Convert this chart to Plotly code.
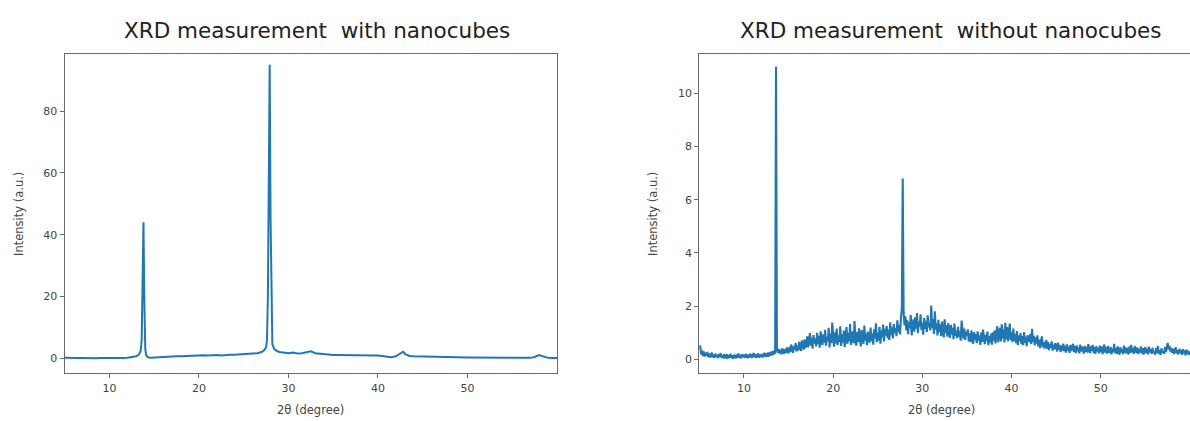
import numpy as np
import plotly.graph_objects as go

# ---------------- data ----------------
# Left panel: XRD with nanocubes (2theta in degree, intensity in a.u.)
x_with = [5.0, 5.5, 6.0, 6.5, 7.0, 7.5, 8.0, 8.5, 9.0, 9.5, 10.0, 10.5, 11.0, 11.5, 12.0,
          12.5, 13.0, 13.3, 13.5, 13.6, 13.7, 13.8, 13.9, 14.0, 14.1, 14.3, 14.6, 15.0,
          15.5, 16.0, 16.5, 17.0, 17.5, 18.0, 18.5, 19.0, 19.5, 20.0, 20.5, 21.0, 21.5,
          22.0, 22.5, 23.0, 23.5, 24.0, 24.5, 25.0, 25.5, 26.0, 26.5, 27.0, 27.3, 27.5,
          27.6, 27.7, 27.8, 27.9, 28.0, 28.1, 28.2, 28.4, 28.7, 29.0, 29.5, 30.0, 30.5,
          31.0, 31.5, 32.0, 32.5, 33.0, 33.5, 34.0, 34.5, 35.0, 35.5, 36.0, 36.5, 37.0,
          37.5, 38.0, 38.5, 39.0, 39.5, 40.0, 40.5, 41.0, 41.5, 42.0, 42.5, 42.8, 43.1,
          43.5, 44.0, 44.5, 45.0, 45.5, 46.0, 46.5, 47.0, 47.5, 48.0, 48.5, 49.0, 49.5,
          50.0, 50.5, 51.0, 51.5, 52.0, 52.5, 53.0, 53.5, 54.0, 54.5, 55.0, 55.5, 56.0,
          56.5, 57.0, 57.5, 58.0, 58.3, 58.7, 59.0, 59.5, 60.0]
y_with = [0.15, 0.05, 0.10, 0.02, 0.08, 0.00, 0.05, -0.02, 0.06, 0.01, 0.04, -0.01, 0.06, 0.03, 0.12,
          0.25, 0.60, 1.20, 2.50, 6.0, 25.0, 44.0, 18.0, 3.0, 1.0, 0.3, 0.1, 0.2,
          0.3, 0.4, 0.45, 0.5, 0.6, 0.6, 0.7, 0.8, 0.75, 0.9, 0.95, 0.85, 1.0,
          1.0, 0.9, 1.05, 1.1, 1.1, 1.2, 1.2, 1.3, 1.4, 1.6, 2.0, 2.6, 3.5,
          6.0, 20.0, 70.0, 95.0, 45.0, 10.0, 4.5, 3.0, 2.3, 2.0, 1.7, 1.6, 1.8,
          1.5, 1.6, 1.9, 2.2, 1.6, 1.4, 1.2, 1.1, 1.0, 1.05, 1.0, 0.95, 0.9,
          0.95, 0.85, 0.9, 0.8, 0.85, 0.9, 0.7, 0.5, 0.3, 0.6, 1.5, 2.1, 1.2,
          0.7, 0.6, 0.55, 0.5, 0.5, 0.45, 0.42, 0.4, 0.38, 0.35, 0.3, 0.3, 0.28,
          0.25, 0.22, 0.2, 0.18, 0.15, 0.16, 0.15, 0.12, 0.1, 0.08, 0.05, 0.04, 0.0,
          0.05, 0.1, 0.4, 1.0, 0.7, 0.3, 0.1, 0.08, 0.05]

# Right panel: XRD without nanocubes, scanned from 5 to 60 degree in 0.1 degree steps
scan_start, scan_end, scan_points = 5.0, 60.0, 551
y_without = [
    0.36, 0.52, 0.18, 0.33, 0.12, 0.29, 0.10, 0.24, 0.13, 0.27,
    0.08, 0.22, 0.06, 0.19, 0.25, 0.07, 0.18, 0.05, 0.21, 0.09,
    0.17, 0.04, 0.20, 0.08, 0.23, 0.06, 0.16, 0.03, 0.19, 0.07,
    0.05, 0.19, 0.03, 0.16, 0.06, 0.21, 0.04, 0.15, 0.02, 0.17,
    0.07, 0.04, 0.18, 0.05, 0.22, 0.06, 0.16, 0.04, 0.19, 0.08,
    0.17, 0.05, 0.20, 0.07, 0.04, 0.18, 0.06, 0.21, 0.08, 0.05,
    0.16, 0.23, 0.07, 0.19, 0.05, 0.17, 0.22, 0.06, 0.18, 0.08,
    0.20, 0.07, 0.17, 0.24, 0.08, 0.21, 0.09, 0.25, 0.11, 0.22,
    0.27, 0.14, 0.30, 0.17, 0.33, 0.21, 11.0, 0.37, 0.24, 0.39,
    0.21, 0.36, 0.18, 0.41, 0.25, 0.20, 0.38, 0.23, 0.44, 0.26,
    0.22, 0.46, 0.27, 0.55, 0.32, 0.24, 0.50, 0.35, 0.61, 0.29,
    0.52, 0.33, 0.65, 0.40, 0.31, 0.71, 0.47, 0.36, 0.75, 0.42,
    0.54, 0.86, 0.45, 0.74, 0.98, 0.51, 0.81, 0.40, 0.91, 0.58,
    0.77, 0.48, 0.99, 0.57, 0.88, 0.43, 1.05, 0.65, 0.54, 0.94,
    0.62, 1.11, 0.51, 0.85, 0.67, 1.18, 0.44, 0.96, 0.60, 1.38,
    0.68, 0.47, 1.01, 0.59, 1.15, 0.53, 0.89, 0.65, 1.24, 0.50,
    0.94, 0.62, 1.08, 0.45, 0.86, 1.21, 0.58, 0.98, 0.67, 1.32,
    0.54, 0.90, 1.05, 0.60, 1.44, 0.69, 0.51, 1.02, 0.64, 1.16,
    0.75, 0.48, 1.10, 0.88, 0.57, 1.27, 0.70, 0.96, 0.53, 1.04,
    0.86, 0.62, 1.19, 0.68, 0.97, 0.55, 1.12, 0.77, 1.35, 0.64,
    1.00, 0.70, 1.22, 0.58, 1.08, 0.82, 1.30, 0.67, 1.14, 0.89,
    1.25, 0.80, 1.11, 0.72, 1.39, 0.91, 1.20, 0.78, 1.32, 0.98,
    1.17, 0.87, 1.46, 1.02, 1.28, 0.93, 1.55, 1.88, 6.80, 1.76,
    1.27, 1.61, 1.08, 1.47, 0.94, 1.39, 1.17, 1.66, 0.90, 1.32,
    1.50, 1.04, 1.58, 1.15, 1.74, 0.98, 1.41, 1.22, 1.69, 1.09,
    1.37, 0.92, 1.55, 1.14, 1.44, 1.03, 1.65, 1.20, 1.38, 1.08,
    2.02, 1.17, 1.51, 0.95, 1.80, 1.11, 1.35, 0.89, 1.48, 1.02,
    1.31, 0.87, 1.42, 1.07, 0.82, 1.50, 0.98, 1.27, 0.85, 1.36,
    1.11, 0.80, 1.29, 0.93, 1.18, 0.75, 1.34, 0.88, 1.08, 0.79,
    1.22, 0.84, 1.06, 0.70, 1.45, 0.91, 0.77, 1.15, 0.73, 1.04,
    0.89, 1.12, 0.67, 0.97, 0.64, 1.08, 0.79, 0.58, 1.02, 0.72,
    0.94, 0.60, 1.05, 0.69, 0.90, 0.54, 1.00, 0.65, 1.11, 0.71,
    0.57, 0.92, 0.68, 1.04, 0.53, 0.87, 0.62, 0.96, 0.55, 1.01,
    0.70, 1.09, 0.59, 0.95, 1.24, 0.64, 0.90, 1.18, 0.67, 1.31,
    0.78, 1.12, 0.63, 1.37, 0.75, 1.21, 0.68, 0.98, 1.34, 0.72,
    1.01, 0.65, 1.15, 0.69, 0.94, 0.60, 1.06, 0.54, 0.89, 0.67,
    0.98, 0.58, 0.87, 0.53, 1.02, 0.62, 0.84, 0.49, 0.91, 0.65,
    0.70, 0.95, 0.57, 1.14, 0.64, 0.88, 0.52, 0.82, 0.59, 0.90,
    0.48, 0.74, 0.42, 0.69, 0.86, 0.45, 0.65, 0.40, 0.61, 0.72,
    0.39, 0.64, 0.34, 0.58, 0.43, 0.67, 0.32, 0.55, 0.37, 0.60,
    0.48, 0.29, 0.62, 0.35, 0.54, 0.27, 0.51, 0.33, 0.59, 0.30,
    0.50, 0.25, 0.56, 0.32, 0.47, 0.24, 0.54, 0.31, 0.45, 0.58,
    0.27, 0.49, 0.23, 0.52, 0.30, 0.44, 0.22, 0.55, 0.29, 0.47,
    0.41, 0.21, 0.50, 0.28, 0.46, 0.25, 0.57, 0.31, 0.23, 0.48,
    0.32, 0.54, 0.24, 0.45, 0.20, 0.49, 0.29, 0.42, 0.22, 0.51,
    0.27, 0.47, 0.19, 0.41, 0.55, 0.25, 0.44, 0.21, 0.50, 0.30,
    0.24, 0.46, 0.18, 0.40, 0.27, 0.58, 0.23, 0.42, 0.20, 0.48,
    0.29, 0.17, 0.45, 0.25, 0.39, 0.19, 0.51, 0.27, 0.22, 0.43,
    0.31, 0.18, 0.47, 0.24, 0.54, 0.26, 0.41, 0.20, 0.49, 0.28,
    0.23, 0.44, 0.19, 0.39, 0.25, 0.48, 0.21, 0.42, 0.17, 0.37,
    0.45, 0.22, 0.40, 0.18, 0.47, 0.26, 0.38, 0.20, 0.43, 0.24,
    0.29, 0.17, 0.42, 0.23, 0.49, 0.21, 0.34, 0.16, 0.41, 0.25,
    0.31, 0.20, 0.46, 0.27, 0.55, 0.61, 0.37, 0.50, 0.29, 0.42,
    0.24, 0.40, 0.19, 0.37, 0.45, 0.22, 0.34, 0.18, 0.39, 0.23,
    0.35, 0.16, 0.38, 0.22, 0.33, 0.15, 0.36, 0.20, 0.32, 0.17,
    0.27,
]
x_without = np.linspace(scan_start, scan_end, scan_points)
assert len(y_without) == scan_points

x_ticks = [10, 20, 30, 40, 50]
y_ticks_with = [0, 20, 40, 60, 80]
y_ticks_without = [0, 2, 4, 6, 8, 10]

title_with = "XRD measurement  with nanocubes"
title_without = "XRD measurement  without nanocubes"
x_label = "2θ (degree)"
y_label = "Intensity (a.u.)"

# ---------------- figure ----------------
W, H = 1190, 421
LINE = "#1f77b4"
FRAME = "#6b6b6b"
TICKFONT = dict(family="DejaVu Sans", size=11, color="#444444")

fig = go.Figure()
fig.add_trace(go.Scatter(x=x_with, y=y_with, mode="lines",
                         line=dict(color=LINE, width=2), xaxis="x", yaxis="y",
                         showlegend=False, hoverinfo="skip"))
fig.add_trace(go.Scatter(x=x_without, y=y_without, mode="lines",
                         line=dict(color=LINE, width=2.1), xaxis="x2", yaxis="y2",
                         showlegend=False, hoverinfo="skip"))

def px(v):
    return v / W

def py(v):
    return 1 - v / H

axis_common = dict(showgrid=False, zeroline=False, showline=True, linecolor=FRAME,
                   linewidth=1.3, ticks="outside", ticklen=4, tickwidth=1,
                   tickcolor=FRAME, tickfont=TICKFONT, automargin=False)

left_dom = [px(64.7), px(557)]
right_dom = [px(699.3), 1.0]
y_dom = [py(373.3), py(54)]

fig.update_layout(
    width=W, height=H, autosize=False,
    margin=dict(l=0, r=0, t=0, b=0, pad=0),
    paper_bgcolor="white", plot_bgcolor="white",
    xaxis=dict(domain=left_dom, range=[5, 60], tickvals=x_ticks, mirror=True,
               anchor="y", **axis_common),
    yaxis=dict(domain=y_dom, range=[-4.9, 98.5], tickvals=y_ticks_with, mirror=True,
               anchor="x", **axis_common),
    xaxis2=dict(domain=right_dom, range=[5, 60], tickvals=x_ticks, mirror=True,
                anchor="y2", **axis_common),
    yaxis2=dict(domain=y_dom, range=[-0.53, 11.48], tickvals=y_ticks_without, mirror=False,
                anchor="x2", **axis_common),
)

TITLEFONT = dict(family="DejaVu Sans", size=21.5, color="#222222")
LABELFONT = dict(family="DejaVu Sans", size=11.5, color="#444444")
annots = [
    dict(text=title_with, x=px(317), y=py(30), font=TITLEFONT),
    dict(text=title_without, x=px(951), y=py(30), font=TITLEFONT),
    dict(text=x_label, x=px(310), y=py(410), font=LABELFONT),
    dict(text=x_label, x=px(941), y=py(410), font=LABELFONT),
    dict(text=y_label, x=px(19), y=py(214), font=LABELFONT, textangle=-90),
    dict(text=y_label, x=px(653), y=py(214), font=LABELFONT, textangle=-90),
]
for a in annots:
    fig.add_annotation(xref="paper", yref="paper", showarrow=False,
                       xanchor="center", yanchor="middle", **a)

fig.write_html("out.html", config={"displayModeBar": False},
               post_script="document.body.style.margin='0px';document.body.style.overflow='hidden';")
